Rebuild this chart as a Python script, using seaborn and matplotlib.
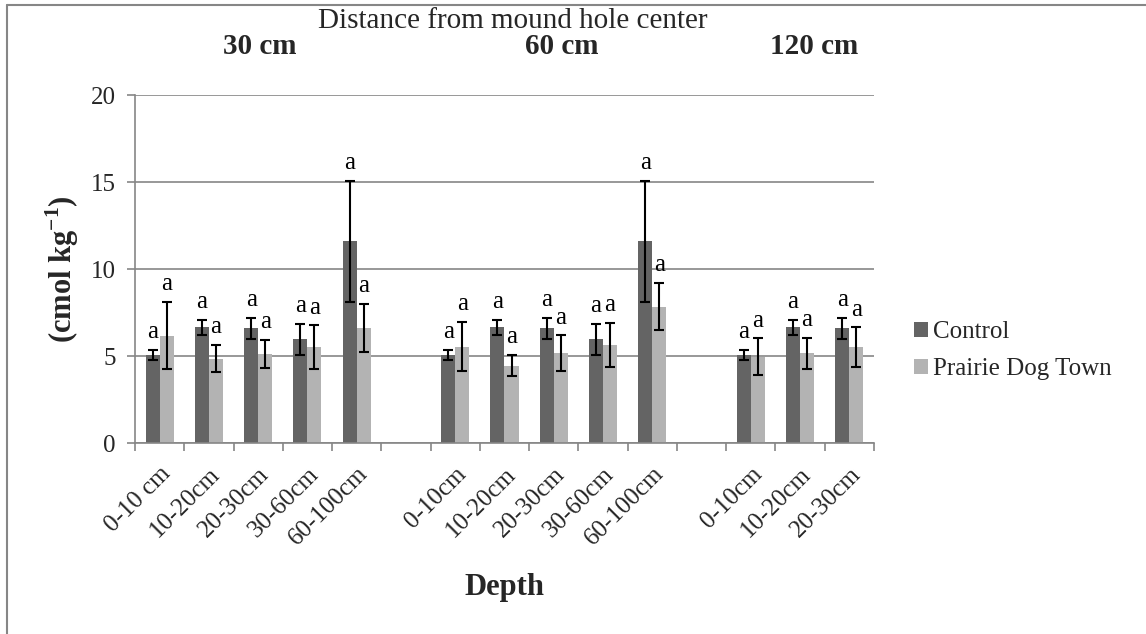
import numpy as np
import pandas as pd
import matplotlib
matplotlib.use("Agg")
import matplotlib.pyplot as plt
from matplotlib.lines import Line2D
from matplotlib.patches import Patch
import seaborn as sns

# ---- data -------------------------------------------------------------
distances = ["30 cm", "60 cm", "120 cm"]
depths_30 = ["0-10 cm", "10-20cm", "20-30cm", "30-60cm", "60-100cm"]
depths_60 = ["0-10cm", "10-20cm", "20-30cm", "30-60cm", "60-100cm"]
depths_120 = ["0-10cm", "10-20cm", "20-30cm"]

control_30 = [5.07, 6.66, 6.60, 5.97, 11.59]
control_60 = [5.07, 6.66, 6.60, 5.97, 11.59]
control_120 = [5.07, 6.66, 6.60]
control_err_30 = [0.29, 0.42, 0.60, 0.90, 3.50]
control_err_60 = [0.29, 0.42, 0.60, 0.90, 3.50]
control_err_120 = [0.29, 0.42, 0.60]

pdt_30 = [6.19, 4.86, 5.13, 5.52, 6.64]
pdt_60 = [5.55, 4.46, 5.17, 5.65, 7.85]
pdt_120 = [4.98, 5.17, 5.52]
pdt_err_30 = [1.95, 0.79, 0.80, 1.25, 1.38]
pdt_err_60 = [1.40, 0.60, 1.03, 1.28, 1.35]
pdt_err_120 = [1.04, 0.90, 1.13]

letters = "a"
treatments = ["Control", "Prairie Dog Town"]
colors = ["#646464", "#b3b3b3"]

# ---- long-form table, with an empty slot between distance groups -------
groups = [
    (depths_30, control_30, control_err_30, pdt_30, pdt_err_30),
    (depths_60, control_60, control_err_60, pdt_60, pdt_err_60),
    (depths_120, control_120, control_err_120, pdt_120, pdt_err_120),
]
rows = []
slot_labels = []
slot = 0
for gi, (deps, cm, ce, pm, pe) in enumerate(groups):
    for d, c, c_e, p, p_e in zip(deps, cm, ce, pm, pe):
        key = f"s{slot}"
        rows.append(dict(slot=key, treatment=treatments[0], value=c, err=c_e))
        rows.append(dict(slot=key, treatment=treatments[1], value=p, err=p_e))
        slot_labels.append(d)
        slot += 1
    if gi < len(groups) - 1:
        slot_labels.append("")
        slot += 1
slot_order = [f"s{i}" for i in range(len(slot_labels))]
df = pd.DataFrame(rows)
err_lookup = {(r.slot, r.treatment): r.err for r in df.itertuples()}

# ---- style --------------------------------------------------------------
sns.set_theme(style="white")
plt.rcParams["font.family"] = ["Liberation Serif", "DejaVu Serif"]
plt.rcParams["mathtext.fontset"] = "custom"
plt.rcParams["mathtext.rm"] = "Liberation Serif"
plt.rcParams["mathtext.bf"] = "Liberation Serif:bold"
gray = "#868686"

fig = plt.figure(figsize=(11.46, 6.34), dpi=100)
ax = fig.add_axes([135 / 1146, 1 - 443.3 / 634, 739 / 1146, 348.3 / 634])

sns.barplot(data=df, x="slot", y="value", hue="treatment", order=slot_order,
            hue_order=treatments, palette=colors, width=0.57, errorbar=None,
            saturation=1, linewidth=0, legend=False, ax=ax, zorder=2)

# error bars and significance letters from each drawn bar
for patch in ax.patches:
    h = patch.get_height()
    if not np.isfinite(h) or h == 0:
        continue
    xc = patch.get_x() + patch.get_width() / 2
    idx = int(round(xc))
    tr = treatments[0] if xc < idx else treatments[1]
    e = err_lookup[(slot_order[idx], tr)]
    ax.errorbar(xc, h, yerr=e, fmt="none", ecolor="black", elinewidth=1.5,
                capsize=3.6, capthick=1.5, zorder=3)
    ax.annotate(letters, (xc, h + e), xytext=(0, 8.5), textcoords="offset points",
                ha="center", va="baseline", fontsize=18, color="black")

# axes
ax.set_xlim(-0.5, len(slot_order) - 0.5)
ax.set_ylim(0, 20)
ax.set_yticks([0, 5, 10, 15, 20])
ax.yaxis.grid(True, color=gray, linewidth=1.2, zorder=0)
ax.set_axisbelow(True)
for s in ["top", "right"]:
    ax.spines[s].set_visible(False)
for s in ["left", "bottom"]:
    ax.spines[s].set_color(gray)
    ax.spines[s].set_linewidth(1.2)

ax.set_xticks(np.arange(-0.5, len(slot_order), 1.0))
ax.set_xticklabels([])
ax.set_xticks(np.arange(len(slot_order)), minor=True)
ax.set_xticklabels(slot_labels, minor=True, rotation=45, ha="right",
                   rotation_mode="anchor", fontsize=18)
ax.tick_params(axis="x", which="major", direction="out", length=6, width=1.2,
               color=gray, bottom=True)
ax.tick_params(axis="x", which="minor", length=0, pad=14)
ax.tick_params(axis="y", direction="out", length=6, width=1.2, color=gray,
               labelsize=18, left=True, pad=8)

ax.set_xlabel("Depth", fontsize=22, fontweight="bold")
ax.xaxis.set_label_coords(0.5, -0.372)
ax.xaxis.label.set_va("top")
ax.set_ylabel(r"(cmol kg$^{\mathbf{-1}}$)", fontsize=22, fontweight="bold")
ax.yaxis.set_label_coords(-0.073, 0.5)

# legend
handles = [Patch(facecolor=c, edgecolor="none") for c in colors]
ax.legend(handles, treatments, loc="center left",
          bbox_to_anchor=(914 / 1146, 1 - 350.5 / 634), bbox_transform=fig.transFigure,
          frameon=False, fontsize=18, handlelength=0.56, handleheight=0.56,
          handletextpad=0.2, labelspacing=0.6, borderpad=0, borderaxespad=0)

# titles
fig.text(513 / 1146, 1 - 21 / 634, "Distance from mound hole center",
         ha="center", va="center", fontsize=21)
for name, xc, yc in zip(distances, [260, 562, 814], [47, 46, 47]):
    fig.text(xc / 1146, 1 - yc / 634, name, ha="center", va="center",
             fontsize=21, fontweight="bold")

# outer frame edges
fig.add_artist(Line2D([7 / 1146, 7 / 1146], [0, 1 - 5 / 634], transform=fig.transFigure,
                      color=gray, linewidth=1.5))
fig.add_artist(Line2D([7 / 1146, 1], [1 - 5 / 634, 1 - 5 / 634], transform=fig.transFigure,
                      color=gray, linewidth=1.5))

fig.savefig("out.png", dpi=100, facecolor="white")
